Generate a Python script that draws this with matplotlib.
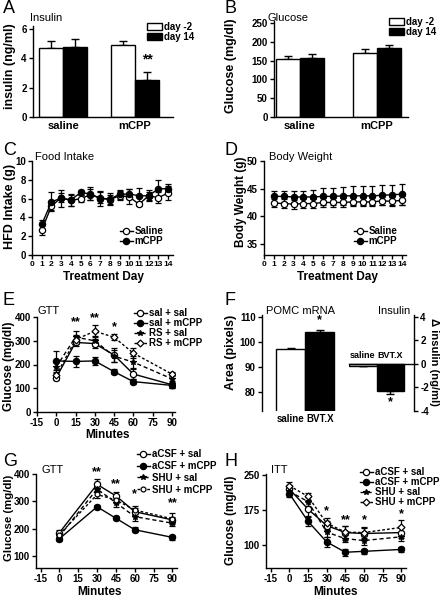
import matplotlib
matplotlib.use('Agg')
import matplotlib.pyplot as plt
from matplotlib.patches import Patch

plt.rcParams['font.family'] = ['Liberation Sans', 'DejaVu Sans']
plt.rcParams['font.weight'] = 'bold'
plt.rcParams['axes.unicode_minus'] = False

# ---------------- data ----------------
bar_groups = ['saline', 'mCPP']
bar_series = ['day -2', 'day 14']
insulin_dm2 = [4.7, 4.9]
insulin_dm2_err = [0.5, 0.3]
insulin_d14 = [4.8, 2.5]
insulin_d14_err = [0.5, 0.6]
glucose_dm2 = [155, 170]
glucose_dm2_err = [8, 10]
glucose_d14 = [157, 183]
glucose_d14_err = [10, 8]

days = list(range(1, 15))
food_saline = [2.65, 5.2, 6.1, 5.8, 6.0, 6.4, 6.1, 5.9, 6.3, 6.2, 5.4, 6.3, 6.1, 6.6]
food_saline_err = [0.5, 0.4, 0.5, 0.6, 0.4, 0.6, 0.6, 0.5, 0.5, 0.8, 0.2, 0.6, 0.6, 0.7]
food_mcpp = [3.25, 5.65, 6.05, 5.85, 6.65, 6.5, 6.0, 5.95, 6.45, 6.5, 6.3, 6.3, 7.05, 7.05]
food_mcpp_err = [0.5, 1.0, 0.9, 0.6, 0.3, 0.7, 0.8, 0.6, 0.5, 0.5, 0.8, 0.4, 0.9, 0.5]

bw_saline = [42.4, 42.3, 42.2, 42.3, 42.3, 42.5, 42.5, 42.5, 42.6, 42.6, 42.6, 42.8, 42.7, 42.9]
bw_saline_err = [0.8, 0.8, 0.8, 0.8, 0.8, 0.8, 0.8, 0.8, 0.8, 0.8, 0.8, 0.8, 0.8, 0.8]
bw_mcpp = [43.6, 43.6, 43.5, 43.5, 43.5, 43.6, 43.6, 43.7, 43.7, 43.7, 43.7, 43.8, 43.9, 44.0]
bw_mcpp_err = [1.0, 1.0, 1.0, 1.1, 1.3, 1.5, 1.6, 1.6, 1.7, 1.7, 1.7, 1.8, 1.8, 1.9]

min_E = [0, 15, 30, 45, 60, 90]
e_sal_sal = [145, 293, 288, 240, 160, 115]
e_sal_sal_err = [10, 15, 20, 30, 20, 15]
e_sal_mcpp = [215, 213, 215, 170, 128, 112]
e_sal_mcpp_err = [40, 22, 18, 12, 12, 12]
e_rs_sal = [190, 315, 300, 235, 210, 140]
e_rs_sal_err = [25, 25, 20, 25, 25, 15]
e_rs_mcpp = [155, 305, 340, 315, 248, 160]
e_rs_mcpp_err = [15, 20, 25, 12, 22, 10]

pomc_groups = ['saline', 'BVT.X']
pomc_area = [97, 104]
pomc_area_err = [0.5, 0.7]
delta_insulin = [-0.15, -2.3]
delta_insulin_err = [0.05, 0.25]

min_G = [0, 30, 45, 60, 90]
g_acsf_sal = [185, 362, 320, 262, 232]
g_acsf_sal_err = [10, 18, 15, 15, 12]
g_acsf_mcpp = [163, 280, 238, 196, 168]
g_acsf_mcpp_err = [8, 8, 7, 10, 10]
g_shu_sal = [172, 345, 295, 244, 220]
g_shu_sal_err = [10, 12, 15, 15, 12]
g_shu_mcpp = [178, 325, 305, 268, 236]
g_shu_mcpp_err = [10, 12, 12, 15, 20]

min_H = [0, 15, 30, 45, 60, 90]
h_acsf_sal = [220, 177, 142, 127, 125, 127]
h_acsf_sal_err = [8, 15, 10, 15, 12, 12]
h_acsf_mcpp = [210, 151, 107, 85, 87, 91]
h_acsf_mcpp_err = [8, 10, 10, 7, 5, 5]
h_shu_sal = [215, 193, 128, 114, 110, 118]
h_shu_sal_err = [8, 10, 10, 8, 10, 10]
h_shu_mcpp = [227, 204, 147, 128, 127, 138]
h_shu_mcpp_err = [8, 8, 12, 12, 12, 15]

# ---------------- layout helpers ----------------
W, H = 442, 598
fig = plt.figure(figsize=(W / 100, H / 100), dpi=100)


def add_ax(l, t, r, b):
    return fig.add_axes([l / W, 1 - b / H, (r - l) / W, (b - t) / H])


def fp(x, y):
    return (x / W, 1 - y / H)


def style(ax, xlen=3):
    for s in ['top', 'right']:
        ax.spines[s].set_visible(False)
    for s in ['left', 'bottom']:
        ax.spines[s].set_linewidth(1.0)
    ax.tick_params(direction='out', length=3, width=1, labelsize=7, pad=1.5)
    ax.tick_params(axis='x', length=xlen)


def ftext(x, y, s, **kw):
    fig.text(x / W, 1 - y / H, s, **kw)


def letter(x, y, s):
    ftext(x, y, s, fontsize=13, fontweight='normal', va='baseline', ha='left')


def title(x, y, s, ha='left'):
    ftext(x, y, s, fontsize=8, fontweight='normal', va='baseline', ha=ha)


def ylab(x, y, s, rot=90, size=8.5):
    ftext(x, y, s, fontsize=size, rotation=rot, ha='center', va='center')


def xlab(x, y, s, size=8.5):
    ftext(x, y, s, fontsize=size, ha='center', va='baseline')


def line_series(ax, x, y, err, marker, ls, mfc, ms, label):
    ax.errorbar(x, y, yerr=err, fmt='none', ecolor='black', elinewidth=0.9,
                capsize=2, capthick=0.9, zorder=2)
    ln, = ax.plot(x, y, color='black', ls=ls, lw=1.0, marker=marker, mfc=mfc,
                  mec='black', ms=ms, mew=0.9, zorder=3, label=label)
    return ln


def bar_panel(ax, centers, v1, e1, v2, e2):
    x1 = [c - 0.5 for c in centers]
    x2 = [c + 0.5 for c in centers]
    ax.bar(x1, v1, width=1.0, color='white', edgecolor='black', lw=1.0, zorder=2)
    ax.bar(x2, v2, width=1.0, color='black', edgecolor='black', lw=1.0, zorder=2)
    ax.errorbar(x1, v1, yerr=[[0] * len(v1), e1], fmt='none', ecolor='black',
                elinewidth=1.0, capsize=3, capthick=1.0, zorder=1)
    ax.errorbar(x2, v2, yerr=[[0] * len(v2), e2], fmt='none', ecolor='black',
                elinewidth=1.0, capsize=3, capthick=1.0, zorder=1)
    return x1, x2


def bar_legend(x, y):
    h = [Patch(facecolor='white', edgecolor='black', lw=1.0),
         Patch(facecolor='black', edgecolor='black', lw=1.0)]
    fig.legend(h, bar_series, loc='upper left', bbox_to_anchor=fp(x, y),
               bbox_transform=fig.transFigure, frameon=False, fontsize=7,
               borderpad=0, borderaxespad=0, handlelength=1.5, handleheight=0.7,
               handletextpad=0.2, labelspacing=0.0)


def line_legend(handles, x, y, spacing=0.0):
    fig.legend(handles, [h.get_label() for h in handles], loc='upper left',
               bbox_to_anchor=fp(x, y), bbox_transform=fig.transFigure,
               frameon=False, fontsize=7, borderpad=0, borderaxespad=0,
               handlelength=1.3, handletextpad=0.2, labelspacing=spacing)


# ---------------- A ----------------
axA = add_ax(33, 26, 173, 117)
centersA = [1, 4]
x1, x2 = bar_panel(axA, centersA, insulin_dm2, insulin_dm2_err, insulin_d14, insulin_d14_err)
axA.set_xlim(-0.25, 5.58)
axA.set_ylim(0, 6.2)
axA.set_yticks([0, 2, 4, 6])
axA.set_xticks(centersA, bar_groups)
style(axA, xlen=0)
axA.tick_params(axis='x', labelsize=8, pad=3)
axA.text(x2[1], insulin_d14[1] + insulin_d14_err[1] + 0.35, '**', ha='center', va='bottom', fontsize=10)
letter(3, 13, 'A')
title(30, 21, 'Insulin')
ylab(10, 66, 'insulin (ng/ml)', size=9)
bar_legend(147, 22)

# ---------------- B ----------------
axB = add_ax(274, 21, 408, 117)
centersB = [1, 4.2]
bar_panel(axB, centersB, glucose_dm2, glucose_dm2_err, glucose_d14, glucose_d14_err)
axB.set_xlim(-0.08, 5.5)
axB.set_ylim(0, 255)
axB.set_yticks([0, 50, 100, 150, 200, 250])
axB.set_xticks(centersB, bar_groups)
style(axB, xlen=0)
axB.tick_params(axis='x', labelsize=8, pad=3)
letter(224, 13, 'B')
title(268, 21, 'Glucose')
ylab(231, 66, 'Glucose (mg/dl)', size=9)
bar_legend(389, 17)

# ---------------- C ----------------
axC = add_ax(32, 161, 173, 255)
hC1 = line_series(axC, days, food_saline, food_saline_err, 'o', '-', 'white', 4.5, 'Saline')
hC2 = line_series(axC, days, food_mcpp, food_mcpp_err, 'o', '-', 'black', 4.5, 'mCPP')
axC.set_xlim(0, 14.5)
axC.set_ylim(0, 10)
axC.set_xticks(range(0, 15))
axC.set_yticks([0, 2, 4, 6, 8, 10])
style(axC)
axC.tick_params(axis='x', labelsize=6)
letter(3, 155, 'C')
title(35, 160, 'Food Intake')
ylab(10, 206, 'HFD Intake (g)', size=9)
xlab(103, 280, 'Treatment Day')
line_legend([hC1, hC2], 120, 226)

# ---------------- D ----------------
axD = add_ax(264, 161, 406, 255)
hD1 = line_series(axD, days, bw_saline, bw_saline_err, 'o', '-', 'white', 4.5, 'Saline')
hD2 = line_series(axD, days, bw_mcpp, bw_mcpp_err, 'o', '-', 'black', 4.5, 'mCPP')
axD.set_xlim(0, 14.4)
axD.set_ylim(33, 50)
axD.set_xticks(range(0, 15))
axD.set_yticks([35, 40, 45, 50])
style(axD)
axD.tick_params(axis='x', labelsize=6)
letter(224, 155, 'D')
title(269, 160, 'Body Weight')
ylab(241, 202, 'Body Weight (g)', size=8.5)
xlab(337, 280, 'Treatment Day')
line_legend([hD1, hD2], 354, 226)

# ---------------- E ----------------
axE = add_ax(37, 317, 175, 412)
hE1 = line_series(axE, min_E, e_sal_sal, e_sal_sal_err, 'o', '-', 'white', 4.5, 'sal + sal')
hE2 = line_series(axE, min_E, e_sal_mcpp, e_sal_mcpp_err, 'o', '-', 'black', 4.5, 'sal + mCPP')
hE3 = line_series(axE, min_E, e_rs_sal, e_rs_sal_err, '*', (0, (3, 2)), 'black', 4, 'RS + sal')
hE4 = line_series(axE, min_E, e_rs_mcpp, e_rs_mcpp_err, 'D', (0, (2, 1.5)), 'white', 3.5, 'RS + mCPP')
axE.set_xlim(-15, 92.5)
axE.set_ylim(0, 400)
axE.set_xticks([-15, 0, 15, 30, 45, 60, 75, 90])
axE.set_yticks([0, 100, 200, 300, 400])
style(axE)
for xs, ys, s in [(15, 378, '**'), (30, 395, '**'), (45, 358, '*')]:
    axE.text(xs, ys, s, ha='center', va='center', fontsize=9, clip_on=False)
letter(3, 305, 'E')
title(37, 314, 'GTT')
ylab(9, 366, 'Glucose (mg/dl)', size=8.5)
xlab(107, 438, 'Minutes')
line_legend([hE1, hE2, hE3, hE4], 134, 308)

# ---------------- F ----------------
axF1 = add_ax(262, 315, 337, 411)
axF1.bar([1, 2], pomc_area, width=1.0, color=['white', 'black'], edgecolor='black', lw=1.0, zorder=2)
axF1.errorbar([1, 2], pomc_area, yerr=[[0, 0], pomc_area_err], fmt='none', ecolor='black',
              elinewidth=1.0, capsize=3, capthick=1.0, zorder=1)
axF1.set_xlim(0, 2.6)
axF1.set_ylim(72.4, 110.8)
axF1.set_yticks([80, 90, 100, 110])
axF1.set_xticks([1, 2], pomc_groups)
style(axF1, xlen=0)
axF1.spines['bottom'].set_visible(False)
axF1.tick_params(axis='x', labelsize=7, pad=2)
axF1.text(2, 108.6, '*', ha='center', va='center', fontsize=9)
letter(224, 305, 'F')
title(300, 314, 'POMC mRNA', ha='center')
ylab(231, 352, 'Area (pixels)', size=9)

axF2 = add_ax(349, 315, 414, 411)
axF2.bar([1, 2], delta_insulin, width=1.0, color=['white', 'black'], edgecolor='black', lw=1.0, zorder=2)
axF2.errorbar([1, 2], delta_insulin, yerr=[delta_insulin_err, [0, 0]], fmt='none', ecolor='black',
              elinewidth=1.0, capsize=3, capthick=1.0, zorder=1)
axF2.set_xlim(0.5, 2.86)
axF2.set_ylim(-4.03, 4.17)
axF2.set_yticks([-4, -2, 0, 2, 4])
axF2.set_xticks([])
axF2.spines['left'].set_visible(False)
axF2.spines['top'].set_visible(False)
axF2.spines['right'].set_linewidth(1.0)
axF2.spines['bottom'].set_position(('data', 0))
axF2.spines['bottom'].set_linewidth(1.0)
axF2.yaxis.tick_right()
axF2.tick_params(direction='out', length=3, width=1, labelsize=7, pad=1.5)
for xi, g in zip([1, 2], pomc_groups):
    axF2.text(xi, 0.35, g, ha='center', va='bottom', fontsize=6.5)
axF2.text(2, -3.25, '*', ha='center', va='center', fontsize=9)
title(394, 314, 'Insulin', ha='center')
ylab(434, 362, '\u0394 insulin (ng/ml)', rot=270, size=8)

# ---------------- G ----------------
axG = add_ax(36, 474, 177, 568)
hG1 = line_series(axG, min_G, g_acsf_sal, g_acsf_sal_err, 'o', '-', 'white', 4.5, 'aCSF + sal')
hG2 = line_series(axG, min_G, g_acsf_mcpp, g_acsf_mcpp_err, 'o', '-', 'black', 4.5, 'aCSF + mCPP')
hG3 = line_series(axG, min_G, g_shu_sal, g_shu_sal_err, '*', (0, (3, 2)), 'black', 4, 'SHU + sal')
hG4 = line_series(axG, min_G, g_shu_mcpp, g_shu_mcpp_err, 'o', (0, (2, 1.5)), 'white', 3.5, 'SHU + mCPP')
axG.set_xlim(-18.6, 93.6)
axG.set_ylim(56, 400)
axG.set_xticks([-15, 0, 15, 30, 45, 60, 75, 90])
axG.set_yticks([100, 200, 300, 400])
style(axG)
for xs, ys, s in [(30, 405, '**'), (45, 364, '**'), (60, 328, '*'), (90, 292, '**')]:
    axG.text(xs, ys, s, ha='center', va='center', fontsize=9, clip_on=False)
letter(3, 466, 'G')
title(42, 473, 'GTT')
ylab(9, 518, 'Glucose (mg/dl)', size=8.2)
xlab(99, 595, 'Minutes')
line_legend([hG1, hG2, hG3, hG4], 137, 449, spacing=0.2)

# ---------------- H ----------------
axH = add_ax(266, 474, 406, 568)
hH1 = line_series(axH, min_H, h_acsf_sal, h_acsf_sal_err, 'o', '-', 'white', 4.5, 'aCSF + sal')
hH2 = line_series(axH, min_H, h_acsf_mcpp, h_acsf_mcpp_err, 'o', '-', 'black', 4.5, 'aCSF + mCPP')
hH3 = line_series(axH, min_H, h_shu_sal, h_shu_sal_err, '*', (0, (3, 2)), 'black', 4, 'SHU + sal')
hH4 = line_series(axH, min_H, h_shu_mcpp, h_shu_mcpp_err, 'D', (0, (2, 1.5)), 'white', 3.5, 'SHU + mCPP')
axH.set_xlim(-18.8, 93.8)
axH.set_ylim(51.4, 252)
axH.set_xticks([-15, 0, 15, 30, 45, 60, 75, 90])
axH.set_yticks([100, 175, 250])
style(axH)
for xs, ys, s in [(30, 172, '*'), (45, 154, '**'), (60, 154, '*'), (90, 166, '*')]:
    axH.text(xs, ys, s, ha='center', va='center', fontsize=9, clip_on=False)
letter(224, 466, 'H')
title(271, 473, 'ITT')
ylab(231, 520, 'Glucose (mg/dl)', size=8.5)
xlab(335, 595, 'Minutes')
line_legend([hH1, hH2, hH3, hH4], 360, 467)

fig.savefig('out.png', dpi=100)
